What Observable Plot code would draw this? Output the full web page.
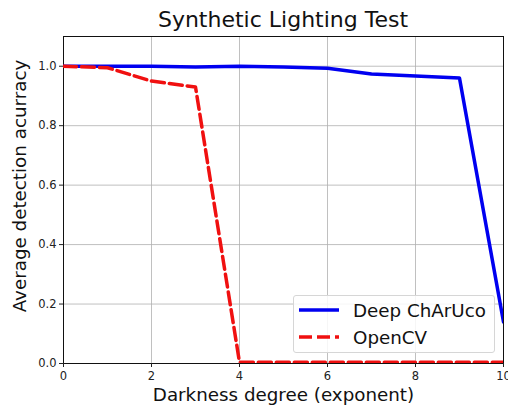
<!DOCTYPE html>
<html>
<head>
<meta charset="utf-8">
<script src="https://cdn.jsdelivr.net/npm/d3@7"></script>
<script src="https://cdn.jsdelivr.net/npm/@observablehq/plot@0.6"></script>
<style>
  body { margin: 0; background: #fff; font-family: "DejaVu Sans", sans-serif; }
  #wrap { position: relative; width: 508px; height: 408px; overflow: hidden; }
  #title { position: absolute; left: 63px; width: 440px; top: 7px; text-align: center; font-size: 22px; line-height: 26px; color: #111; }
  #chart { position: absolute; left: 0; top: 34px; }
  #legend { position: absolute; left: 293px; top: 295px; width: 202px; height: 58px; box-sizing: border-box;
            background: rgba(255,255,255,0.85); border: 1px solid #d6d6d6; border-radius: 3px; }
  .row { position: absolute; left: 0; height: 22px; display: flex; align-items: center; font-size: 18.3px; color: #111; white-space: nowrap; }
  .row svg { margin-left: 5px; margin-right: 14px; }
</style>
</head>
<body>
<div id="wrap">
  <div id="title">Synthetic Lighting Test</div>
  <div id="chart"></div>
  <div id="legend">
    <div class="row" style="top:3px"><svg width="40" height="6"><line x1="0" y1="3" x2="40" y2="3" stroke="#0000f0" stroke-width="3.5"/></svg>Deep ChArUco</div>
    <div class="row" style="top:30px"><svg width="40" height="6"><line x1="0" y1="3" x2="40" y2="3" stroke="#f01010" stroke-width="3.5" stroke-dasharray="13,5"/></svg>OpenCV</div>
  </div>
</div>
<script>
const darkness = [0, 1, 2, 3, 4, 5, 6, 7, 8, 9, 10];
const deepCharuco = [1.0, 1.0, 1.0, 0.997, 1.0, 0.997, 0.993, 0.974, 0.967, 0.96, 0.14];
const openCV = [1.0, 0.995, 0.95, 0.93, 0.004, 0.004, 0.004, 0.004, 0.004, 0.004, 0.004];
const xTicks = [0, 2, 4, 6, 8, 10];
const yTicks = [0.0, 0.2, 0.4, 0.6, 0.8, 1.0];
const xLabel = "Darkness degree (exponent)";
const yLabel = "Average detection acurracy";

const deepData = darkness.map((d, i) => ({x: d, y: deepCharuco[i]}));
const cvData = darkness.map((d, i) => ({x: d, y: openCV[i]}));

const chart = Plot.plot({
  width: 508,
  height: 374,
  marginTop: 2,
  marginBottom: 45,
  marginLeft: 63,
  marginRight: 5,
  style: {fontFamily: "DejaVu Sans, sans-serif", color: "#222", overflow: "visible"},
  x: {domain: [0, 10]},
  y: {domain: [0, 1.1]},
  marks: [
    Plot.gridX(xTicks, {stroke: "#b0b0b0", strokeOpacity: 0.8, strokeWidth: 1}),
    Plot.gridY(yTicks, {stroke: "#b0b0b0", strokeOpacity: 0.8, strokeWidth: 1}),
    Plot.frame({stroke: "#111", strokeWidth: 1}),
    Plot.axisX(xTicks, {tickSize: 4, tickPadding: 4, fontSize: 11.5, label: null, tickFormat: d => String(d)}),
    Plot.axisY(yTicks, {tickSize: 4, tickPadding: 3, fontSize: 11.5, label: null, tickFormat: d3.format(".1f")}),
    Plot.line(deepData, {x: "x", y: "y", stroke: "#0000f0", strokeWidth: 3.5, clip: true}),
    Plot.line(cvData, {x: "x", y: "y", stroke: "#f01010", strokeWidth: 3.5, strokeDasharray: "13,5", clip: true}),
    Plot.text([xLabel], {frameAnchor: "bottom", dy: 37, fontSize: 18.3, fill: "#111"}),
    Plot.text([yLabel], {frameAnchor: "left", textAnchor: "middle", dx: -43, dy: -14, rotate: -90, fontSize: 18.3, fill: "#111"})
  ]
});
document.getElementById("chart").appendChild(chart);
</script>
</body>
</html>
